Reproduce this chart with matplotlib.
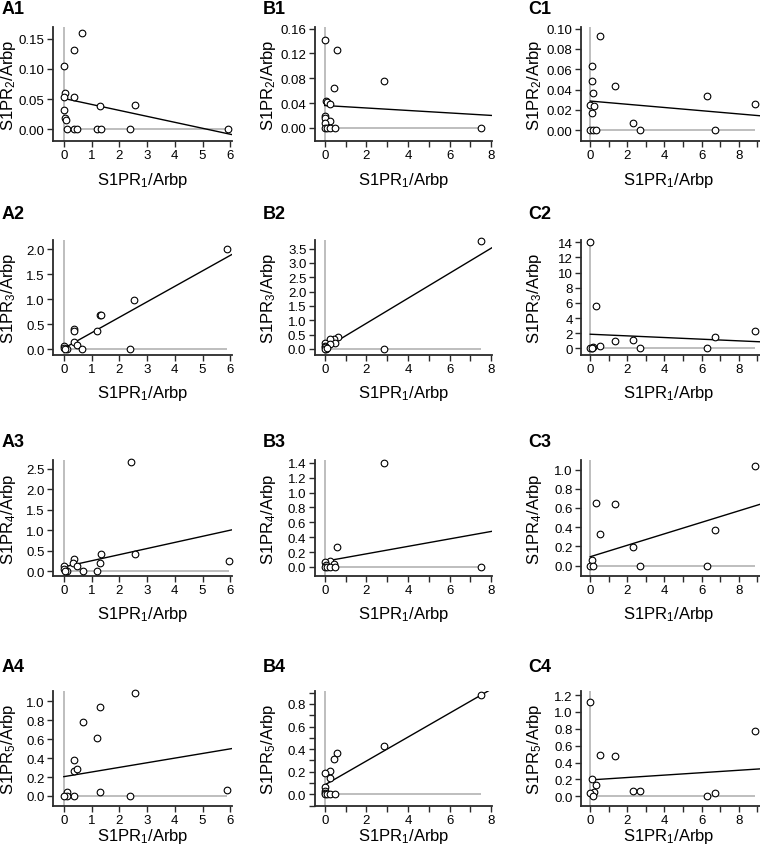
import matplotlib
matplotlib.use('Agg')
import matplotlib.pyplot as plt
from matplotlib.ticker import MultipleLocator, FormatStrFormatter
import numpy as np

plt.rcParams['font.family'] = ['Liberation Sans', 'DejaVu Sans']
plt.rcParams['mathtext.fontset'] = 'custom'
plt.rcParams['mathtext.rm'] = 'Liberation Sans'
plt.rcParams['mathtext.it'] = 'Liberation Sans:italic'
plt.rcParams['mathtext.bf'] = 'Liberation Sans:bold'

# ---------------- data ----------------
panel_names = ['A1', 'A2', 'A3', 'A4', 'B1', 'B2', 'B3', 'B4', 'C1', 'C2', 'C3', 'C4']
x_label = 'S1PR$_1$/Arbp'
y_labels = ['S1PR$_2$/Arbp', 'S1PR$_3$/Arbp', 'S1PR$_4$/Arbp', 'S1PR$_5$/Arbp']

a1_x = [0.0, 0.66, 0.35, 0.04, 0.01, 0.36, 0.0, 0.06, 0.08, 0.10, 0.36, 0.48, 1.18, 1.33, 1.30, 2.40, 2.55, 5.90]
a1_y = [0.105, 0.159, 0.132, 0.060, 0.054, 0.054, 0.032, 0.018, 0.015, 0.0, 0.0, 0.0, 0.0, 0.0, 0.038, 0.0, 0.040, 0.0]
a2_x = [5.88, 2.53, 1.30, 1.33, 1.18, 0.36, 0.36, 0.35, 0.48, 0.67, 0.10, 2.39, 0.0, 0.01, 0.04]
a2_y = [2.00, 0.983, 0.689, 0.676, 0.355, 0.395, 0.36, 0.14, 0.087, 0.0, 0.0, 0.0, 0.07, 0.03, 0.007]
a3_x = [2.42, 2.57, 1.33, 1.30, 1.20, 0.69, 0.37, 0.34, 0.48, 0.10, 0.01, 0.0, 0.04, 5.94]
a3_y = [2.66, 0.41, 0.42, 0.197, 0.0, 0.0, 0.29, 0.19, 0.13, 0.0, 0.13, 0.05, 0.0, 0.255]
a4_x = [2.55, 1.32, 0.68, 1.19, 0.36, 0.35, 0.49, 1.30, 0.37, 2.40, 0.10, 0.10, 0.0, 5.89]
a4_y = [1.085, 0.94, 0.778, 0.609, 0.38, 0.264, 0.282, 0.042, 0.0, 0.0, 0.042, 0.0, 0.0, 0.063]

b1_x = [0.0, 0.61, 2.84, 0.46, 0.05, 0.11, 0.26, 0.0, 0.0, 0.26, 0.02, 0.0, 0.11, 0.24, 0.48, 7.51]
b1_y = [0.141, 0.126, 0.076, 0.064, 0.043, 0.042, 0.039, 0.019, 0.016, 0.011, 0.007, 0.0, 0.0, 0.0, 0.0, 0.0]
b2_x = [7.49, 2.84, 0.64, 0.45, 0.24, 0.50, 0.0, 0.27, 0.03, 0.0, 0.05, 0.0, 0.12]
b2_y = [3.77, 0.0, 0.41, 0.35, 0.35, 0.20, 0.20, 0.16, 0.12, 0.06, 0.0, 0.0, 0.02]
b3_x = [2.84, 0.61, 0.26, 0.0, 0.05, 0.45, 0.0, 0.11, 0.27, 0.48, 7.49]
b3_y = [1.405, 0.264, 0.075, 0.066, 0.03, 0.04, 0.0, 0.0, 0.0, 0.0, 0.0]
b4_x = [7.49, 2.84, 0.61, 0.45, 0.27, 0.0, 0.26, 0.0, 0.0, 0.01, 0.0, 0.11, 0.24, 0.48]
b4_y = [0.877, 0.428, 0.369, 0.31, 0.204, 0.19, 0.145, 0.068, 0.027, 0.01, 0.0, 0.0, 0.0, 0.0]

c1_x = [0.54, 0.09, 0.11, 0.16, 1.33, 0.0, 0.20, 0.11, 2.32, 2.70, 6.31, 6.74, 8.90, 0.0, 0.13, 0.31]
c1_y = [0.0924, 0.0634, 0.048, 0.037, 0.0432, 0.0248, 0.024, 0.017, 0.0069, 0.0, 0.0333, 0.0, 0.0254, 0.0, 0.0, 0.0]
c2_x = [0.0, 0.29, 8.88, 6.73, 1.33, 2.32, 0.54, 0.16, 0.09, 0.0, 0.07, 2.70, 6.31]
c2_y = [14.0, 5.63, 2.27, 1.57, 1.0, 1.13, 0.26, 0.22, 0.09, 0.0, 0.0, 0.0, 0.0]
c3_x = [8.88, 0.29, 1.33, 0.54, 6.74, 2.32, 0.09, 0.0, 0.16, 2.70, 6.31]
c3_y = [1.042, 0.655, 0.644, 0.331, 0.37, 0.194, 0.056, 0.0, 0.0, 0.0, 0.0]
c4_x = [0.0, 8.88, 0.54, 1.33, 0.11, 0.29, 0.18, 0.0, 0.13, 2.32, 2.70, 6.74, 6.31]
c4_y = [1.117, 0.768, 0.495, 0.483, 0.202, 0.135, 0.055, 0.036, 0.0, 0.067, 0.067, 0.036, 0.0]

xs_all = [a1_x, a2_x, a3_x, a4_x, b1_x, b2_x, b3_x, b4_x, c1_x, c2_x, c3_x, c4_x]
ys_all = [a1_y, a2_y, a3_y, a4_y, b1_y, b2_y, b3_y, b4_y, c1_y, c2_y, c3_y, c4_y]

# regression lines as drawn (intercept, slope)
fit_intercepts = [0.051, 0.02, 0.107, 0.204, 0.036, 0.02, 0.075, 0.083, 0.0287, 1.87, 0.092, 0.194]
fit_slopes = [-0.0099, 0.309, 0.149, 0.049, -0.002, 0.437, 0.0503, 0.106, -0.00158, -0.109, 0.0597, 0.0143]

# ---------------- layout ----------------
W, H = 760, 853
fig = plt.figure(figsize=(W / 100, H / 100), dpi=100)

col_left = [53, 314.7, 581]
col_right = [232, 492.3, 760]
row_top = [28, 241, 461, 692]
row_bot = [142, 356, 577, 807]

xlims = [(-0.39, 6.06), (-0.48, 8.05), (-0.50, 9.15)]
x_major = [1, 2, 2]
x_minor = [None, 1, 1]
ylims = [(-0.0196, 0.1696), (-0.114, 2.18), (-0.115, 2.71), (-0.106, 1.109),
         (-0.0213, 0.1627), (-0.21, 3.80), (-0.123, 1.44), (-0.103, 0.915),
         (-0.0106, 0.1016), (-0.87, 14.3), (-0.109, 1.10), (-0.115, 1.248)]
y_major = [0.05, 0.5, 0.5, 0.2, 0.04, 0.5, 0.2, 0.2, 0.02, 2, 0.2, 0.2]
y_minor = [None, None, None, None, None, None, None, 0.1, None, None, None, None]
y_fmt = ['%.2f', '%.1f', '%.1f', '%.1f', '%.2f', '%.1f', '%.1f', '%.1f', '%.2f', '%d', '%.1f', '%.1f']

label_x = [2, 263, 528]
label_top = [1, 206, 434, 659]
xlabel_off = [38, 38, 37, 30]
ylabel_off = [44, 46, 46]

gray = '#b9b9b9'
spine_c = '#2a2a2a'

for i, name in enumerate(panel_names):
    c, r = divmod(i, 4)
    l, rr = col_left[c], col_right[c]
    t, b = row_top[r], row_bot[r]
    ax = fig.add_axes([l / W, 1 - b / H, (rr - l) / W, (b - t) / H])
    ax.set_facecolor('none')
    x = np.array(xs_all[i]); y = np.array(ys_all[i])
    x0, x1 = xlims[c]
    ax.set_xlim(x0, x1)
    ax.set_ylim(*ylims[i])

    # zero reference lines
    ax.plot([0, x.max()], [0, 0], color=gray, lw=1.3, zorder=1, solid_capstyle='butt')
    ax.axvline(0, color=gray, lw=1.3, zorder=1)
    # regression line
    fx = np.array([0, x1])
    ax.plot(fx, fit_intercepts[i] + fit_slopes[i] * fx, color='black', lw=1.0, zorder=2)
    # points
    ax.plot(x, y, 'o', mfc='white', mec='black', ms=4.8, mew=0.8, zorder=3, clip_on=False)

    for s in ('top', 'right'):
        ax.spines[s].set_visible(False)
    for s in ('left', 'bottom'):
        ax.spines[s].set_linewidth(1.3)
        ax.spines[s].set_color(spine_c)

    ax.xaxis.set_major_locator(MultipleLocator(x_major[c]))
    if x_minor[c]:
        ax.xaxis.set_minor_locator(MultipleLocator(x_minor[c]))
    ax.xaxis.set_major_formatter(FormatStrFormatter('%d'))
    ax.yaxis.set_major_locator(MultipleLocator(y_major[i]))
    if y_minor[i]:
        ax.yaxis.set_minor_locator(MultipleLocator(y_minor[i]))
    ax.yaxis.set_major_formatter(FormatStrFormatter(y_fmt[i]))
    ax.tick_params(which='both', direction='out', length=4, width=1.0, color=spine_c,
                   labelsize=9.5, pad=2)

    ax.set_xlabel(x_label, fontsize=12)
    ax.set_ylabel(y_labels[r], fontsize=12)
    ax.xaxis.label.set_va('center')
    ax.yaxis.label.set_va('center')
    wpx, hpx = rr - l, b - t
    ax.xaxis.set_label_coords(0.5 * (min(x1, 9.0) - x0) / (x1 - x0) if c == 2 else 0.5, -xlabel_off[r] / hpx)
    ax.yaxis.set_label_coords(-ylabel_off[c] / wpx, 0.5)

    fig.text(label_x[c] / W, 1 - label_top[r] / H, name, fontsize=13, fontweight='bold',
             ha='left', va='top')

fig.savefig('out.png', dpi=100)
